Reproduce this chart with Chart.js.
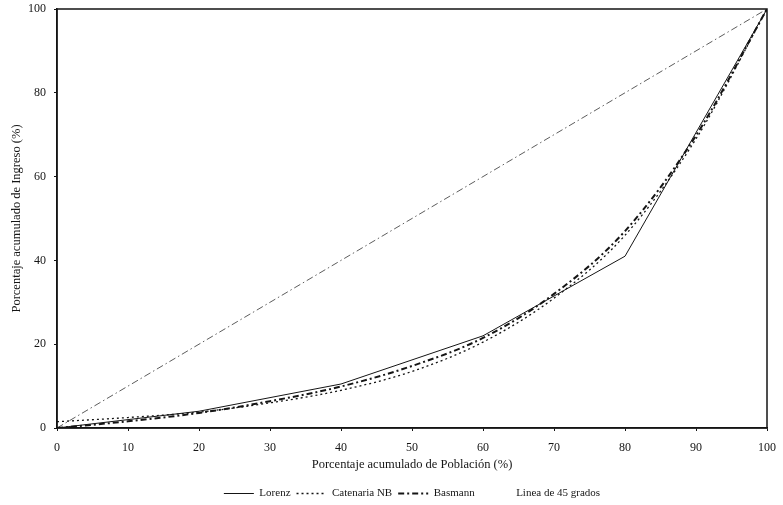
<!DOCTYPE html>
<html lang="es">
<head>
<meta charset="UTF-8">
<title>Curvas de Lorenz</title>
<script src="https://cdn.jsdelivr.net/npm/chart.js@4.4.1/dist/chart.umd.min.js"></script>
<style>
  html, body { margin: 0; padding: 0; background: #fff; }
  #wrap { width: 783px; height: 505px; }
</style>
</head>
<body>
<div id="wrap"><canvas id="lorenzChart" width="783" height="505"></canvas></div>
<script>
// Porcentaje acumulado de poblacion (deciles y quintiles)
const deciles = [0, 10, 20, 30, 40, 50, 60, 70, 80, 90, 100];
const quintiles = [0, 20, 40, 60, 80, 100];

// Porcentaje acumulado de ingreso
const lorenz = [0, 4, 10.5, 22, 41, 100];
const catenariaNB = [1.5, 2.5, 3.8, 6.0, 9.0, 13.5, 20.5, 31.0, 46.0, 69.0, 100];
const basmann = [0, 1.6, 3.6, 6.4, 9.9, 14.8, 21.5, 32.0, 47.0, 69.8, 100];
const linea45 = [0, 100];

const xTicks = [0, 10, 20, 30, 40, 50, 60, 70, 80, 90, 100];
const yTicks = [0, 20, 40, 60, 80, 100];

const toPoints = (xs, ys) => xs.map((x, i) => ({ x: x, y: ys[i] }));

const serif = "'Liberation Serif', 'DejaVu Serif', serif";
const ink = '#151515';

// caja alrededor del area de graficado
const frame = {
  id: 'frame',
  afterDraw(chart) {
    const { ctx, chartArea: a } = chart;
    ctx.save();
    ctx.strokeStyle = ink;
    ctx.lineWidth = 1.5;
    ctx.strokeRect(a.left, a.top, a.right - a.left, a.bottom - a.top);
    ctx.restore();
  }
};

new Chart(document.getElementById('lorenzChart'), {
  type: 'line',
  data: {
    datasets: [
      {
        label: 'Lorenz',
        data: toPoints(quintiles, lorenz),
        borderColor: ink,
        borderWidth: 1,
        tension: 0
      },
      {
        label: 'Catenaria NB',
        data: toPoints(deciles, catenariaNB),
        borderColor: ink,
        borderWidth: 1.3,
        borderDash: [2, 3],
        cubicInterpolationMode: 'monotone'
      },
      {
        label: 'Basmann',
        data: toPoints(deciles, basmann),
        borderColor: ink,
        borderWidth: 2,
        borderDash: [6, 3, 2, 3],
        cubicInterpolationMode: 'monotone'
      },
      {
        label: 'Linea de 45 grados',
        data: toPoints(linea45, linea45),
        borderColor: '#333',
        borderWidth: 0.8,
        borderDash: [7, 3, 1.5, 3],
        tension: 0
      }
    ]
  },
  options: {
    responsive: false,
    animation: false,
    layout: { padding: { left: 9, right: 16, top: 9, bottom: -4 } },
    elements: { point: { radius: 0 } },
    plugins: {
      tooltip: { enabled: false },
      legend: {
        position: 'bottom',
        fullSize: false,
        labels: {
          font: { family: serif, size: 11 },
          color: ink,
          usePointStyle: true,
          pointStyle: 'line',
          pointStyleWidth: 30,
          boxHeight: 6,
          padding: 6,
          generateLabels(chart) {
            return chart.data.datasets.map((ds, i) => ({
              text: ds.label,
              datasetIndex: i,
              strokeStyle: ds.borderColor,
              fillStyle: ds.borderColor,
              fontColor: ink,
              lineWidth: i === 3 ? 0 : ds.borderWidth,
              lineDash: ds.borderDash || [],
              pointStyle: 'line',
              hidden: false
            }));
          }
        }
      }
    },
    scales: {
      x: {
        type: 'linear',
        min: 0,
        max: 100,
        afterBuildTicks(scale) { scale.ticks = xTicks.map(v => ({ value: v })); },
        afterFit(scale) {
          scale.height = 54;
          scale.paddingLeft = 0;
          scale.paddingRight = 0;
        },
        border: { display: true, color: ink, width: 1.5 },
        grid: { drawOnChartArea: false, tickLength: 3, color: ink },
        ticks: { font: { family: serif, size: 12 }, color: ink, maxRotation: 0, padding: 10 },
        title: {
          display: true,
          text: 'Porcentaje acumulado de Población (%)',
          font: { family: serif, size: 12.5 },
          color: ink,
          padding: { top: 0, bottom: 10 }
        }
      },
      y: {
        min: 0,
        max: 100,
        afterBuildTicks(scale) { scale.ticks = yTicks.map(v => ({ value: v })); },
        afterFit(scale) {
          scale.width = 48;
          scale.paddingTop = 0;
          scale.paddingBottom = 0;
        },
        border: { display: true, color: ink, width: 1.5 },
        grid: { drawOnChartArea: false, tickLength: 3, color: ink },
        ticks: { font: { family: serif, size: 12 }, color: ink, padding: 8 },
        title: {
          display: true,
          text: 'Porcentaje acumulado de Ingreso (%)',
          font: { family: serif, size: 12.5 },
          color: ink,
          padding: { top: 0, bottom: 4 }
        }
      }
    }
  },
  plugins: [frame]
});
</script>
</body>
</html>
